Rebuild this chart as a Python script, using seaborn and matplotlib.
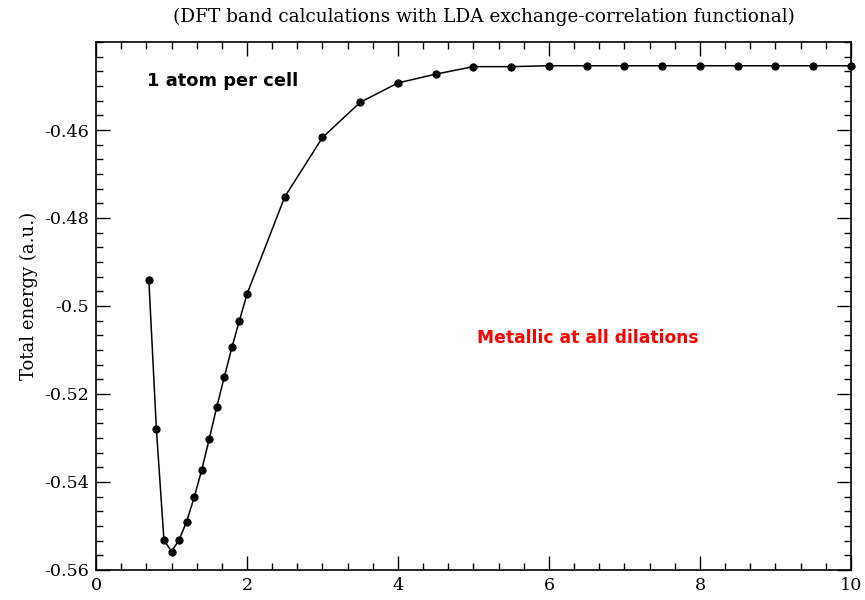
import matplotlib
matplotlib.use("Agg")
import matplotlib.pyplot as plt
from matplotlib.ticker import AutoMinorLocator
import seaborn as sns
import pandas as pd

# ---- data ----
dilation = [0.7, 0.8, 0.9, 1.0, 1.1, 1.2, 1.3, 1.4, 1.5, 1.6, 1.7, 1.8, 1.9, 2.0,
            2.5, 3.0, 3.5, 4.0, 4.5, 5.0, 5.5, 6.0, 6.5, 7.0, 7.5, 8.0, 8.5, 9.0,
            9.5, 10.0]
energy = [-0.4942, -0.5280, -0.5532, -0.5558, -0.5532, -0.5490, -0.5435, -0.5373,
          -0.5302, -0.5229, -0.5161, -0.5094, -0.5033, -0.4973,
          -0.4752, -0.4617, -0.4537, -0.4493, -0.4473, -0.4456, -0.4456, -0.4454,
          -0.4454, -0.4454, -0.4454, -0.4454, -0.4454, -0.4454, -0.4454, -0.4454]
yticks = [-0.56, -0.54, -0.52, -0.5, -0.48, -0.46]
ytick_labels = ["-0.56", "-0.54", "-0.52", "-0.5", "-0.48", "-0.46"]
xticks = [0, 2, 4, 6, 8, 10]
xtick_labels = ["0", "2", "4", "6", "8", "10"]

title = "(DFT band calculations with LDA exchange-correlation functional)"
ylabel = "Total energy (a.u.)"
note1 = "1 atom per cell"
note2 = "Metallic at all dilations"

df = pd.DataFrame({"dilation": dilation, "energy": energy})

sns.set_theme(style="ticks")
plt.rcParams["font.family"] = ["DejaVu Serif"]
plt.rcParams["text.color"] = "black"
plt.rcParams["axes.labelcolor"] = "black"
plt.rcParams["xtick.color"] = "black"
plt.rcParams["ytick.color"] = "black"

fig = plt.figure(figsize=(8.65, 6.0), dpi=100)
ax = fig.add_axes([96 / 865, 30 / 600, 755 / 865, 528 / 600])

sns.lineplot(data=df, x="dilation", y="energy", ax=ax, estimator=None,
             color="black", linewidth=1.1, marker="o", markersize=5.2,
             markeredgecolor="black", markerfacecolor="black", clip_on=False)

ax.set_xlim(0, 10)
ax.set_ylim(-0.56, -0.44)
ax.set_xticks(xticks)
ax.set_xticklabels(xtick_labels)
ax.set_yticks(yticks)
ax.set_yticklabels(ytick_labels)
ax.xaxis.set_minor_locator(AutoMinorLocator(6))
ax.yaxis.set_minor_locator(AutoMinorLocator(6))
ax.tick_params(which="both", direction="in", top=True, right=True,
               color="black", labelcolor="black", width=1.0)
ax.tick_params(which="major", length=10, labelsize=12.6, pad=5)
ax.tick_params(which="minor", length=5)
for s in ax.spines.values():
    s.set_visible(True)
    s.set_linewidth(1.2)
    s.set_color("black")

ax.set_xlabel("")
ax.set_ylabel(ylabel, fontsize=13, color="black")
ax.yaxis.set_label_coords(-0.077, 0.52)

fig.text(484 / 865, 1 - 17 / 600, title, ha="center", va="center",
         fontsize=13.3, color="black")

ax.text(0.675, -0.4489, note1, ha="left", va="center", fontsize=12.9,
        fontweight="bold", family="DejaVu Sans", color="black")
ax.text(5.046, -0.5073, note2, ha="left", va="center", fontsize=12.3,
        fontweight="bold", family="DejaVu Sans", color="#ff0000")

fig.savefig("out.png", dpi=100, facecolor="white")
